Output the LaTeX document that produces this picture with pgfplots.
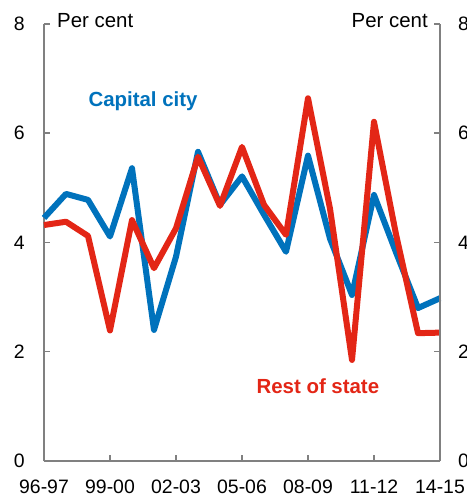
\documentclass[border=0pt]{standalone}
\usepackage{pgfplots}
\pgfplotsset{compat=1.18}
\usepackage{pgfplotstable}
\usepackage{fontspec}
\setmainfont{Liberation Sans}
\definecolor{cblue}{RGB}{0,114,188}
\definecolor{cred}{RGB}{227,38,22}
\definecolor{axgray}{RGB}{128,128,128}

\pgfplotstableread{
x cap rest
0 4.45 4.32
1 4.89 4.38
2 4.78 4.12
3 4.11 2.39
4 5.36 4.41
5 2.40 3.53
6 3.74 4.26
7 5.66 5.57
8 4.69 4.67
9 5.21 5.75
10 4.51 4.69
11 3.83 4.14
12 5.59 6.64
13 4.07 4.62
14 3.04 1.85
15 4.87 6.21
16 3.82 4.15
17 2.80 2.34
18 2.98 2.35
}\data

\pgfplotsset{base/.style={
  at={(44bp,37bp)}, anchor=south west,
  scale only axis, width=396bp, height=437bp,
  xmin=0, xmax=18, ymin=0, ymax=8,
  ytick={0,2,4,6,8},
  tick align=inside,
  major tick length=6bp,
  axis line style={axgray, line width=2bp},
  every tick/.style={axgray, line width=1.5bp},
  /pgf/number format/assume math mode=true,
  tick label style={font=\fontsize{19.5}{22}\selectfont},
  clip=false,
}}

\begin{document}
\begin{tikzpicture}
\useasboundingbox (0,0) rectangle (467bp,498bp);
\begin{axis}[base,
  axis x line*=bottom, axis y line*=left,
  xtick={0,3,...,18},
  xticklabels={96-97,99-00,02-03,05-06,08-09,11-12,14-15},
  xticklabel style={anchor=north, inner sep=0pt, yshift=-19bp},
  yticklabel style={anchor=east, inner sep=0pt, xshift=-19bp},
]
\addplot[cblue, line width=6bp, line join=round] table[x=x,y=cap] {\data};
\addplot[cred, line width=6bp, line join=round] table[x=x,y=rest] {\data};
\node[anchor=base west, font=\fontsize{20.5}{24}\selectfont, inner sep=0pt] at (axis cs:0.59,7.93) {Per cent};
\node[anchor=base east, font=\fontsize{20.5}{24}\selectfont, inner sep=0pt] at (axis cs:17.45,7.93) {Per cent};
\node[font=\fontsize{20.5}{24}\selectfont\bfseries, text=cblue] at (axis cs:4.5,6.59) {Capital city};
\node[font=\fontsize{20.5}{24}\selectfont\bfseries, text=cred] at (axis cs:12.45,1.37) {Rest of state};
\end{axis}
\begin{axis}[base,
  axis x line=none, axis y line*=right,
  yticklabel style={anchor=west, inner sep=0pt, xshift=18bp},
]
\end{axis}
\end{tikzpicture}
\end{document}
